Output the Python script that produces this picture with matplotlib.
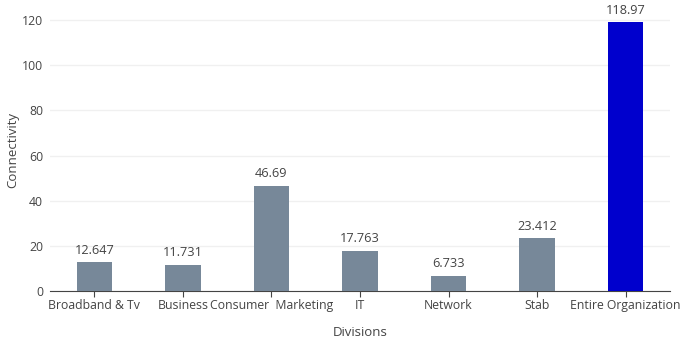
import matplotlib
matplotlib.use("Agg")
import matplotlib.pyplot as plt

categories = ["Broadband & Tv", "Business", "Consumer  Marketing", "IT", "Network", "Stab", "Entire Organization"]
values = [12.647, 11.731, 46.69, 17.763, 6.733, 23.412, 118.97]
labels = ["12.647", "11.731", "46.69", "17.763", "6.733", "23.412", "118.97"]
colors = ["#778899"] * 6 + ["#0000CD"]
yticks = [0, 20, 40, 60, 80, 100, 120]

plt.rcParams['font.family'] = ['Open Sans', 'DejaVu Sans']

fig = plt.figure(figsize=(6.85, 3.41), dpi=100)
ax = fig.add_axes([50/685, 1 - 291/341, 620/685, 282/341])

x = list(range(len(categories)))
bars = ax.bar(x, values, width=0.4, color=colors, zorder=3)
for xi, v, lab in zip(x, values, labels):
    ax.annotate(lab, (xi, v), xytext=(0, 4), textcoords="offset points",
                ha="center", va="bottom", fontsize=9.2, color="#444444", clip_on=False)

ax.set_xlim(-0.5, len(categories) - 0.5)
ax.set_ylim(0, 124.9)
ax.set_yticks(yticks)
ax.set_xticks(x)
ax.set_xticklabels(categories)
ax.grid(axis="y", color="#f0f0f0", linewidth=1, zorder=0)
for s in ["top", "right", "left"]:
    ax.spines[s].set_visible(False)
ax.spines["bottom"].set_color("#444444")
ax.spines["bottom"].set_linewidth(0.8)
ax.tick_params(axis="y", length=0, labelsize=8.8, labelcolor="#444444", pad=5)
ax.tick_params(axis="x", length=4, color="#444444", labelsize=8.8, labelcolor="#444444", pad=2)
ax.set_xlabel("Divisions", fontsize=9.5, color="#444444", labelpad=10)
ax.set_ylabel("Connectivity", fontsize=9.5, color="#444444", labelpad=2)

fig.savefig("out.png", dpi=100)
